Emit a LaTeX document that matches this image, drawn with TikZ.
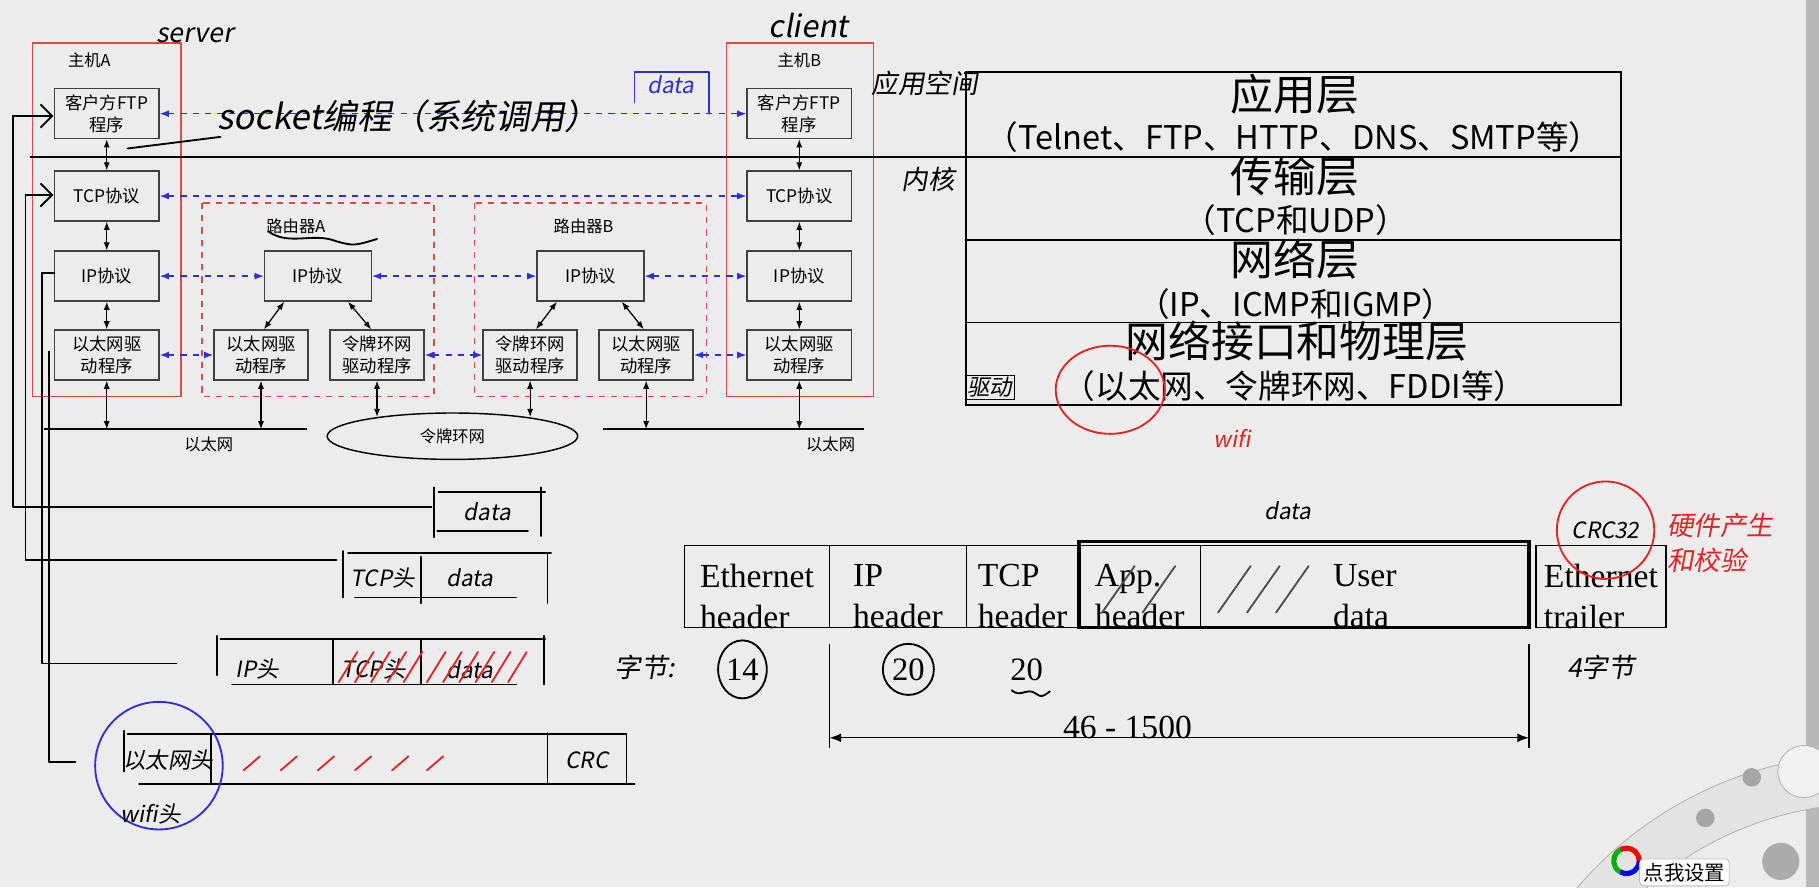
\documentclass[tikz,border=0pt]{standalone}
\usepackage{fontspec}
\setmainfont{Noto Sans CJK SC}
\newfontfamily\tms{Liberation Serif}
\newfontfamily\hand[FakeSlant=0.18]{Noto Sans CJK SC}
\usetikzlibrary{arrows.meta,shapes.geometric,positioning}

\definecolor{screen}{RGB}{236,236,236}
\definecolor{inkblue}{RGB}{45,45,225}
\definecolor{inkred}{RGB}{228,35,35}
\definecolor{framered}{RGB}{228,70,70}

\tikzset{
  layerbox/.style={draw=black!75,line width=0.7pt,fill=screen,minimum width=1.8cm,minimum height=0.86cm,
    align=center,inner sep=1pt,font=\fontsize{8.5}{10.5}\selectfont},
  drvbox/.style={layerbox,minimum width=1.62cm},
  hostframe/.style={draw=framered,line width=0.7pt},
  routerframe/.style={draw=framered,line width=0.7pt,dashed},
  peer/.style={draw=inkblue,dashed,line width=0.7pt,{Latex[length=1.6mm]}-{Latex[length=1.6mm]}},
  updown/.style={line width=0.6pt,{Latex[length=1.4mm]}-{Latex[length=1.4mm]}},
  wire/.style={line width=1.2pt},
  small/.style={font=\fontsize{8}{9}\selectfont},
  layername/.style={font=\fontsize{21}{23}\selectfont},
  layerlist/.style={font=\fontsize{16}{18}\selectfont},
  field/.style={draw,line width=0.7pt,minimum height=1.42cm,inner sep=0pt,label={[fieldtext]center:#1}},
  fieldtext/.style={align=left,yshift=-0.17cm,inner sep=0pt,font=\tms\fontsize{16.5}{20}\selectfont},
  num/.style={font=\tms\fontsize{16}{18}\selectfont},
  ink/.style={line width=0.9pt,line cap=round,line join=round},
  hw/.style={font=\hand\fontsize{11}{12}\selectfont},
}

\begin{document}
\begin{tikzpicture}[x=0.02cm,y=-0.02cm]
  \fill[screen] (0,0) rectangle (1568,765);
  \useasboundingbox (0,0) rectangle (1568,765);
  \fill[gray!55] (1557,0) rectangle (1568,765);

  % hosts and routers
  \draw[hostframe] (28,37) rectangle (156,342);
  \node[small] (hostA) at (77,52) {主机A};
  \draw[hostframe] (626,37) rectangle (753,342);
  \node[small] (hostB) at (689,52) {主机B};
  \draw[routerframe] (174,175) rectangle (374,342);
  \node[small] (rtA) at (255,195) {路由器A};
  \draw[routerframe] (409,175) rectangle (609,342);
  \node[small] (rtB) at (503,195) {路由器B};

  \node[layerbox] (ftpA) at (92,98) {客户方FTP\\程序};
  \node[layerbox] (tcpA) at (92,169) {TCP协议};
  \node[layerbox] (ipA) at (92,238) {IP协议};
  \node[layerbox] (drvA) at (92,306) {以太网驱\\动程序};
  \node[layerbox] (ftpB) at (689,98) {客户方FTP\\程序};
  \node[layerbox] (tcpB) at (689,169) {TCP协议};
  \node[layerbox] (ipB) at (689,238) {IP协议};
  \node[layerbox] (drvB) at (689,306) {以太网驱\\动程序};

  \node[layerbox,minimum width=1.84cm] (ipRA) at (274,238) {IP协议};
  \node[drvbox] (ethRA) at (225,306) {以太网驱\\动程序};
  \node[drvbox] (trRA) at (325,306) {令牌环网\\驱动程序};
  \node[layerbox,minimum width=1.84cm] (ipRB) at (509,238) {IP协议};
  \node[drvbox] (trRB) at (457,306) {令牌环网\\驱动程序};
  \node[drvbox] (ethRB) at (557,306) {以太网驱\\动程序};

  % networks
  \draw[wire] (38,370) coordinate (lanAw) -- (265,370) coordinate (lanAe);
  \node[small] (lanA) at (180,383) {以太网};
  \draw[wire] (520,370) coordinate (lanBw) -- (745,370) coordinate (lanBe);
  \node[small] (lanB) at (716,383) {以太网};
  \node[draw,ellipse,line width=0.7pt,minimum width=4.32cm,minimum height=0.8cm,small] (ring) at (390,376) {令牌环网};

  \foreach \h in {A,B}{
    \draw[updown] (ftp\h) -- (tcp\h);
    \draw[updown] (tcp\h) -- (ip\h);
    \draw[updown] (ip\h) -- (drv\h);
  }
  \draw[updown] (drvA) -- (drvA |- lanAw);
  \draw[updown] (drvB) -- (drvB |- lanBw);
  \draw[updown] (ethRA) -- (ethRA |- lanAw);
  \draw[updown] (ethRB) -- (ethRB |- lanBw);
  \draw[updown] (trRA) -- ([yshift=-0.08cm]trRA.south |- ring.north);
  \draw[updown] (trRB) -- ([yshift=-0.08cm]trRB.south |- ring.north);
  \draw[updown] ([xshift=-0.58cm]ipRA.south) -- ([xshift=0.05cm]ethRA.north);
  \draw[updown] ([xshift=0.52cm]ipRA.south) -- ([xshift=-0.1cm]trRA.north);
  \draw[updown] ([xshift=-0.58cm]ipRB.south) -- ([xshift=0.1cm]trRB.north);
  \draw[updown] ([xshift=0.54cm]ipRB.south) -- ([xshift=-0.04cm]ethRB.north);

  % peer to peer
  \draw[peer] (ftpA) -- (ftpB);
  \draw[peer] (tcpA) -- (tcpB);
  \draw[peer] (ipA) -- (ipRA);
  \draw[peer] (ipRA) -- (ipRB);
  \draw[peer] (ipRB) -- (ipB);
  \draw[peer] (drvA) -- (ethRA);
  \draw[peer] (trRA) -- (trRB);
  \draw[peer] (ethRB) -- (drvB);

  % layer table
  \draw[line width=1pt] (26,135) -- (833,135);
  \draw[line width=0.9pt] (833,62) rectangle (1397,349);
  \foreach \y in {135,207,278} \draw[line width=0.9pt] (833,\y) -- (1397,\y);
  \node[layername] (appL) at (1116,81) {应用层};
  \node[layerlist] (appP) at (1115,118) {（Telnet、FTP、HTTP、DNS、SMTP等）};
  \node[layername] (tspL) at (1116,152) {传输层};
  \node[layerlist] (tspP) at (1117,190) {（TCP和UDP）};
  \node[layername] (netL) at (1116,223) {网络层};
  \node[layerlist] (netP) at (1117,262) {（IP、ICMP和IGMP）};
  \node[layername] (phyL) at (1118,294) {网络接口和物理层};
  \node[layerlist] (phyP) at (1116,333) {（以太网、令牌环网、FDDI等）};

  % ethernet frame
  \node[field={Ethernet\\header},minimum width=2.5cm] (ethh) at (652.5,505.5) {};
  \node[field={IP\\header},minimum width=2.36cm] (iph) at (774,505.5) {};
  \node[field={TCP\\header},minimum width=1.94cm] (tcph) at (881.5,505.5) {};
  \node[field={App.\\header},minimum width=2.1cm] (apph) at (982.5,505.5) {};
  \node[field={User\\data},minimum width=5.66cm] (usrd) at (1176.5,505.5) {};
  \draw[line width=1.6pt] (930,467) rectangle (1318,541);
  \node[field={Ethernet\\trailer},minimum width=2.24cm] (etht) at (1380,505.5) {};

  \draw[line width=0.6pt] (715,555) -- (715,645);
  \draw[line width=0.6pt] (1318,555) -- (1318,645);
  \coordinate (spanL) at (715,636);
  \coordinate (spanR) at (1318,636);
  \draw[line width=0.6pt,{Latex[length=2mm]}-{Latex[length=2mm]}] (spanL) --
    node[pos=0.426,yshift=0.18cm,font=\tms\fontsize{16.5}{18}\selectfont] (span) {46 - 1500} (spanR);

  \node[num] (n14) at (640,577) {14};
  \node[num] (n20a) at (783,577) {20};
  \node[num] (n20b) at (885,577) {20};
  \draw[ink] (n14) ellipse (0.42cm and 0.5cm);
  \draw[ink] (n20a) ellipse (0.44cm and 0.44cm);
  \draw[ink] (872,595) .. controls (880,602) and (885,592) .. (893,598) .. controls (898,601) .. (905,596);

  % handwriting
  \node[hw,font=\hand\fontsize{13}{14}\selectfont] (server) at (168,30) {server};
  \node[hw,font=\hand\fontsize{15}{16}\selectfont] (client) at (697,22) {client};
  \node[hw,font=\hand\fontsize{17}{18}\selectfont] (sock) at (352,100) {socket编程（系统调用）};
  \draw[ink] (110,128) -- (190,118);
  \draw[ink] (232,200) .. controls (250,212) and (270,200) .. (290,208) .. controls (305,212) .. (325,206);
  \node[hw,inkblue] (dataB) at (578,73) {data};
  \draw[ink,inkblue] (547,88) -- (547,62) -- (611,62) -- (611,98);
  \node[hw,font=\hand\fontsize{13}{14}\selectfont] (uspace) at (797,72) {应用空间};
  \node[hw,font=\hand\fontsize{13}{14}\selectfont] (kspace) at (800,155) {内核};
  \node[hw,draw,inner sep=1pt] (drvnote) at (853,334) {驱动};
  \draw[ink,inkred] (957,336) ellipse (0.94cm and 0.76cm);
  \node[hw,inkred] (wifiR) at (1062,378) {wifi};

  \node[hw] (dataTop) at (1110,440) {data};
  \node[hw] (crc32) at (1384,457) {CRC32};
  \draw[ink,inkred] (crc32) circle (0.84cm);
  \node[hw,inkred,align=left,font=\hand\fontsize{13}{17}\selectfont] (hwsum) at (1483,468) {硬件产生\\和校验};
  \node[hw,font=\hand\fontsize{13}{14}\selectfont] (bytes) at (556,575) {字节:};
  \node[hw,font=\hand\fontsize{13}{14}\selectfont] (four) at (1380,575) {4字节};
  \foreach \x in {950,985,1050,1075,1100} \draw[ink,black!70] (\x,528) -- (\x+28,488);

  % encapsulation sketch
  \draw[ink,-{Straight Barb[length=2mm]}] (11,100) -- (46,100);
  \draw[ink] (11,100) -- (11,437) -- (372,437);
  \draw[ink,-{Straight Barb[length=2mm]}] (22,168) -- (46,168);
  \draw[ink] (22,168) -- (22,483) -- (290,483);
  \draw[ink] (47,235) -- (36,235) -- (36,572) -- (152,572);
  \draw[ink] (42,303) -- (42,657) -- (65,657);

  \draw[ink] (378,424) -- (470,424) (374,420) -- (374,463) (466,420) -- (466,462) (377,458) -- (455,458);
  \node[hw] (d1) at (420,441) {data};

  \draw[ink] (300,477) -- (475,477) (296,475) -- (296,515) (363,480) -- (363,520) (472,477) -- (472,520) (306,515) -- (445,515);
  \node[hw] (t2) at (330,498) {TCP头};
  \node[hw] (d2) at (405,498) {data};

  \draw[ink] (190,551) -- (470,551) (187,548) -- (187,582) (287,552) -- (287,590) (363,552) -- (363,590) (469,548) -- (469,590) (200,590) -- (445,590);
  \node[hw] (i3) at (222,577) {IP头};
  \node[hw] (t3) at (322,577) {TCP头};
  \node[hw] (d3) at (405,577) {data};
  \foreach \x in {292,306,320,334,348,368,382,396,410,424,438} \draw[ink,inkred] (\x,588) -- (\x+16,562);

  \draw[ink] (110,633) -- (540,633) (107,630) -- (107,665) (182,633) -- (182,675) (472,632) -- (472,675) (540,633) -- (540,675) (120,676) -- (547,676);
  \node[hw] (e4) at (145,655) {以太网头};
  \node[hw] (c4) at (506,655) {CRC};
  \foreach \x in {210,242,274,306,338,368} \draw[ink,inkred] (\x,664) -- (\x+14,652);
  \draw[ink,inkblue] (137,660) circle (1.1cm);
  \node[hw] (wifih) at (130,702) {wifi头};

  % screen tool ring
  \begin{scope}[shift={(1610,980)},x=1cm,y=1cm]
    \fill[gray!22] (145:6.6) arc[start angle=145,end angle=75,radius=6.6] -- (75:5.74) arc[start angle=75,end angle=145,radius=5.74] -- cycle;
    \draw[gray!60] (145:6.6) arc[start angle=145,end angle=75,radius=6.6];
    \draw[gray!60] (145:5.74) arc[start angle=145,end angle=75,radius=5.74];
    \draw[line width=2.5pt,red] (-4.16,4.76) ++(0:0.22) arc[start angle=0,end angle=120,radius=0.22];
    \draw[line width=2.5pt,green!70!black] (-4.16,4.76) ++(120:0.22) arc[start angle=120,end angle=240,radius=0.22];
    \draw[line width=2.5pt,blue] (-4.16,4.76) ++(240:0.22) arc[start angle=240,end angle=360,radius=0.22];
    \fill[gray!70] (-2.8,5.5) circle (0.16);
    \fill[gray!70] (-2.0,6.2) circle (0.16);
    \draw[gray!60,fill=gray!10] (-1.1,6.3) circle (0.45);
    \fill[gray!65] (-1.5,4.75) circle (0.32);
  \end{scope}
  \node[draw=gray!50,fill=white,rounded corners=2pt,inner sep=2pt,font=\fontsize{10}{11}\selectfont] (setbtn) at (1452,752) {点我设置};
\end{tikzpicture}
\end{document}
